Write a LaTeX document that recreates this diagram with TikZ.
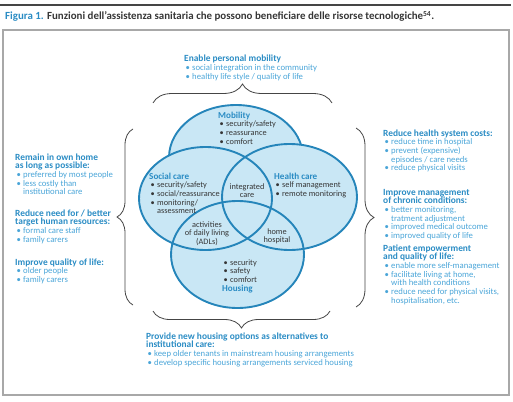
\documentclass[tikz,border=0pt]{standalone}
\usepackage{fontspec}
\setmainfont{Carlito}
\usetikzlibrary{decorations.pathreplacing}
\definecolor{ttl}{HTML}{2A8CC4}
\definecolor{itm}{HTML}{4AA5D8}
\definecolor{vfill}{HTML}{C9E7F5}
\definecolor{vline}{HTML}{2585BA}
\definecolor{txt}{HTML}{363636}
\definecolor{rule}{HTML}{454545}
\definecolor{frame}{HTML}{A8A8A8}
\newcommand\bl{\hspace*{1.5pt}\makebox[6.5pt][l]{\textbullet}}
\newcommand\cl{\hspace*{8pt}}
\newcommand\hd[1]{{\fontsize{9.4}{8.7}\selectfont\bfseries\color{ttl}#1}}
\newcommand\hdi[1]{{\fontsize{9.1}{8.7}\selectfont\bfseries\color{ttl}#1}}
\begin{document}
\begin{tikzpicture}[x=1pt,y=-1pt,
  blk/.style={anchor=base west, inner sep=0pt, align=left, font=\fontsize{8.7}{8.7}\selectfont, text=itm, yshift={-(#1-1)*8.7pt}},
  inblk/.style={anchor=base west, inner sep=0pt, align=left, font=\fontsize{8.3}{8.7}\selectfont, text=txt, yshift={-(#1-1)*8.7pt}},
  lens/.style={anchor=base, inner sep=0pt, align=center, font=\fontsize{8.3}{8.7}\selectfont, text=txt, yshift={-(#1-1)*8.7pt}},
  venn/.style={fill=vfill},
  vennline/.style={draw=vline, line width=1.9pt},
  bracestyle/.style={draw=rule, line width=0.8pt, decorate, decoration={brace, amplitude=#1}}
]
\useasboundingbox (0,0) rectangle (513,401);
% top rule and caption
\coordinate (ruleL) at (0,5);
\coordinate (ruleR) at (511,5);
\draw[rule, line width=1.4pt] (ruleL) -- (ruleR);
\node[anchor=base west, inner sep=0pt, font=\fontsize{10.9}{12}\selectfont\bfseries, text=txt] (caption) at (5,20)
  {{\color{ttl}Figura 1.} Funzioni dell’assistenza sanitaria che possono beneficiare delle risorse tecnologiche\textsuperscript{54}.};
% frame
\draw[frame, line width=1.3pt] (3,30) rectangle (509,395);

% Venn diagram
\fill[venn] (236,157.5) ellipse [x radius=67, y radius=52.5];
\draw[vennline] (236,157.5) ellipse [x radius=67, y radius=52.5];
\fill[venn] (205.5,198.5) ellipse [x radius=66.5, y radius=51.5];
\fill[venn] (289.5,197) ellipse [x radius=67.5, y radius=53];
\fill[venn] (237.5,254.5) ellipse [x radius=66.5, y radius=53.5];
\draw[vennline] (205.5,198.5) ellipse [x radius=66.5, y radius=51.5];
\draw[vennline] (289.5,197) ellipse [x radius=67.5, y radius=53];
\draw[vennline] (237.5,254.5) ellipse [x radius=66.5, y radius=53.5];

% texts in the circles
\node[inblk=4] (mob) at (218,118) {\hdi{Mobility}\\ \bl security/safety\\ \bl reassurance\\ \bl comfort};
\node[inblk=5] (soc) at (149,179) {\hdi{Social care}\\ \bl security/safety\\ \bl social/reassurance\\ \bl monitoring/\\ \cl assessment};
\node[inblk=3] (hea) at (274,179) {\hdi{Health care}\\ \bl self management\\ \bl remote monitoring};
\node[lens=2] (integ) at (247,189) {integrated\\ care};
\node[lens=3] (adl) at (207,227) {activities\\ of daily living\\ (ADLs)};
\node[lens=2] (homeh) at (277,234) {home\\ hospital};
\node[inblk=4] (hous) at (222,265) {\bl security\\ \bl safety\\ \bl comfort\\ \hdi{Housing}};

% braces
\coordinate (tbA) at (153,103);
\coordinate (tbB) at (332,103);
\draw[bracestyle=19] (tbA) -- (tbB);
\coordinate (bbA) at (330,311);
\coordinate (bbB) at (153,311);
\draw[bracestyle=17] (bbA) -- (bbB);
\coordinate (lbA) at (133,305);
\coordinate (lbB) at (133,129);
\draw[bracestyle=16] (lbA) -- (lbB);
\coordinate (rbA) at (356,128);
\coordinate (rbB) at (356,307);
\draw[bracestyle=18] (rbA) -- (rbB);

% outer text blocks
\node[blk=3] (top) at (184,62) {\hd{Enable personal mobility}\\ \bl social integration in the community\\ \bl healthy life style / quality of life};
\node[blk=4] (bottom) at (146,339) {\hd{Provide new housing options as alternatives to}\\ \hd{institutional care:}\\ \bl keep older tenants in mainstream housing arrangements\\ \bl develop specific housing arrangements serviced housing};
\node[blk=5] (left1) at (15,160) {\hd{Remain in own home}\\ \hd{as long as possible:}\\ \bl preferred by most people\\ \bl less costly than\\ \cl institutional care};
\node[blk=4] (left2) at (15,216) {\hd{Reduce need for / better}\\ \hd{target human resources:}\\ \bl formal care staff\\ \bl family carers};
\node[blk=3] (left3) at (15,265) {\hd{Improve quality of life:}\\ \bl older people\\ \bl family carers};
\node[blk=5] (right1) at (383,136) {\hd{Reduce health system costs:}\\ \bl reduce time in hospital\\ \bl prevent (expensive)\\ \cl episodes / care needs\\ \bl reduce physical visits};
\node[blk=6] (right2) at (383,195) {\hd{Improve management}\\ \hd{of chronic conditions:}\\ \bl better monitoring,\\ \cl tratment adjustment\\ \bl improved medical outcome\\ \bl improved quality of life};
\node[blk=7] (right3) at (383,251) {\hd{Patient empowerment}\\ \hd{and quality of life:}\\ \bl enable more self-management\\ \bl facilitate living at home,\\ \cl with health conditions\\ \bl reduce need for physical visits,\\ \cl hospitalisation, etc.};
\end{tikzpicture}
\end{document}
